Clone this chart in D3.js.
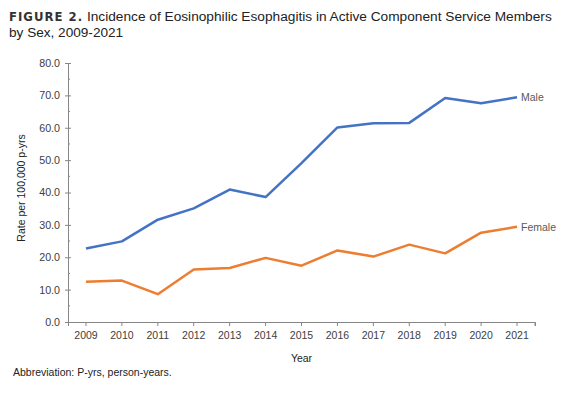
<!DOCTYPE html>
<html>
<head>
<meta charset="utf-8">
<style>
  body { margin: 0; background: #fff; }
  svg text { font-family: 'Liberation Sans', Arial, sans-serif; }
</style>
</head>
<body>
<script src="https://cdnjs.cloudflare.com/ajax/libs/d3/7.8.5/d3.min.js"></script>
<script>
const years = [2009, 2010, 2011, 2012, 2013, 2014, 2015, 2016, 2017, 2018, 2019, 2020, 2021];
const male = [22.7, 24.9, 31.6, 35.1, 40.9, 38.6, 49.1, 60.1, 61.4, 61.5, 69.2, 67.6, 69.4];
const female = [12.4, 12.8, 8.6, 16.2, 16.7, 19.8, 17.4, 22.1, 20.2, 23.9, 21.2, 27.6, 29.4];
const yTicks = [0, 10, 20, 30, 40, 50, 60, 70, 80];
const yMinor = [5, 15, 25, 35, 45, 55, 65, 75];

const width = 575, height = 397;
const margin = {left: 68, right: 40, top: 63, bottom: 75};

const svg = d3.select('body').append('svg')
    .attr('width', width)
    .attr('height', height);

// title
const title = svg.append('text')
    .attr('x', 9)
    .attr('y', 21)
    .attr('font-size', 13.7)
    .attr('fill', '#222');
title.append('tspan')
    .text('FIGURE 2.')
    .attr('font-family', "'DejaVu Sans Condensed', 'DejaVu Sans', sans-serif")
    .attr('font-weight', 'bold')
    .attr('font-size', 13)
    .attr('letter-spacing', 1)
    .attr('fill', '#333');
title.append('tspan')
    .text(' Incidence of Eosinophilic Esophagitis in Active Component Service Members');
svg.append('text')
    .attr('x', 9)
    .attr('y', 37)
    .attr('font-size', 13.6)
    .attr('fill', '#222')
    .text('by Sex, 2009-2021');

const x = d3.scaleBand()
    .domain(years)
    .range([margin.left, width - margin.right]);
const y = d3.scaleLinear()
    .domain([0, 80])
    .range([height - margin.bottom, margin.top]);

const xPos = (d) => x(d) + x.bandwidth() / 2;

// y axis
const yAxis = svg.append('g')
    .attr('transform', 'translate(' + margin.left + ',0)')
    .call(d3.axisLeft(y).tickValues(yTicks).tickFormat(d3.format('.1f')).tickSize(3).tickPadding(5));
yAxis.selectAll('.tick line').attr('x2', 3).attr('x1', -3);
yAxis.select('.domain').attr('stroke', '#868686');
yAxis.selectAll('.tick line').attr('stroke', '#868686');
yAxis.selectAll('text').attr('font-size', 10.7).attr('fill', '#404040')
    .attr('font-family', "'Liberation Sans', Arial, sans-serif");

svg.append('g')
    .selectAll('line')
    .data(yMinor)
    .enter()
    .append('line')
    .attr('x1', margin.left)
    .attr('x2', margin.left + 2)
    .attr('y1', (d) => y(d))
    .attr('y2', (d) => y(d))
    .attr('stroke', '#868686');

// x axis
const xAxis = svg.append('g')
    .attr('transform', 'translate(0,' + (height - margin.bottom) + ')')
    .call(d3.axisBottom(x).tickSizeOuter(0).tickSize(4).tickPadding(6));
xAxis.select('.domain').attr('stroke', '#868686');
xAxis.selectAll('.tick line').attr('stroke', '#868686');
xAxis.selectAll('text').attr('font-size', 10.5).attr('fill', '#404040')
    .attr('font-family', "'Liberation Sans', Arial, sans-serif");
xAxis.append('line')
    .attr('x1', width - margin.right)
    .attr('x2', width - margin.right)
    .attr('y1', 0)
    .attr('y2', 4)
    .attr('stroke', '#868686');

// axis titles
svg.append('text')
    .attr('transform', 'translate(25,188) rotate(-90)')
    .attr('text-anchor', 'middle')
    .attr('font-size', 10.5)
    .attr('fill', '#222')
    .text('Rate per 100,000 p-yrs');
svg.append('text')
    .attr('x', (margin.left + width - margin.right) / 2)
    .attr('y', 362)
    .attr('text-anchor', 'middle')
    .attr('font-size', 10.5)
    .attr('fill', '#222')
    .text('Year');
svg.append('text')
    .attr('x', 13)
    .attr('y', 376)
    .attr('font-size', 10.5)
    .attr('fill', '#222')
    .text('Abbreviation: P-yrs, person-years.');

// lines
const line = d3.line()
    .x((d, i) => xPos(years[i]))
    .y((d) => y(d));

const series = [
    {name: 'Male', values: male, color: '#4472C4'},
    {name: 'Female', values: female, color: '#ED7D31'}
];

series.forEach((s) => {
    svg.append('path')
        .datum(s.values)
        .attr('d', line)
        .attr('fill', 'none')
        .attr('stroke', s.color)
        .attr('stroke-width', 2.5)
        .attr('stroke-linejoin', 'round');
    svg.append('text')
        .attr('x', xPos(years[years.length - 1]) + 4)
        .attr('y', y(s.values[s.values.length - 1]) + 4)
        .attr('font-size', 10.5)
        .attr('fill', '#595959')
        .text(s.name);
});
</script>
</body>
</html>
